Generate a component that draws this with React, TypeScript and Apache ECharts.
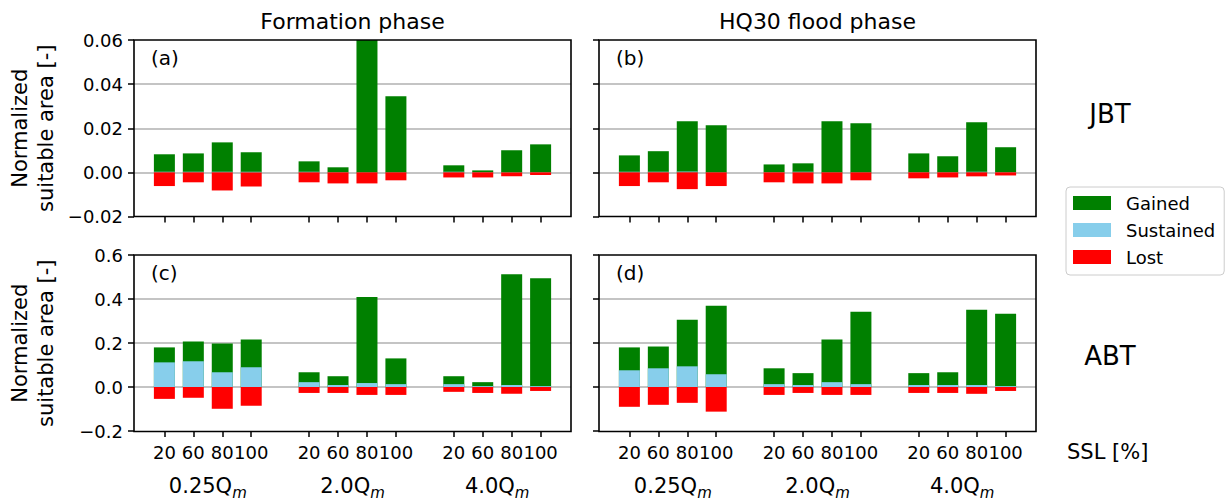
import React, { useEffect, useRef } from 'react';
import * as echarts from 'echarts';

// ---------- data ----------
const sslLabels = ['20', '60', '80', '100'];
const dischargeLabels = ['0.25', '2.0', '4.0'];
const phaseTitles = ['Formation phase', 'HQ30 flood phase'];
const speciesLabels = ['JBT', 'ABT'];
const panelLetters = ['(a)', '(b)', '(c)', '(d)'];
const seriesNames = ['Gained', 'Sustained', 'Lost'];

// (a) JBT, formation phase
const jbtFormationSustained = [0.0003, 0.0003, 0.0003, 0.0003, 0.0003, 0, 0, 0, 0.0003, 0, 0, 0];
const jbtFormationGained = [0.0079, 0.0083, 0.0133, 0.0088, 0.0047, 0.0023, 0.062, 0.0345, 0.0029, 0.0009, 0.01, 0.0127];
const jbtFormationLost = [-0.0062, -0.0045, -0.0082, -0.0064, -0.0045, -0.005, -0.005, -0.0036, -0.0023, -0.0023, -0.0017, -0.0012];

// (b) JBT, HQ30 flood phase
const jbtFloodSustained = [0.0003, 0.0003, 0.0004, 0, 0, 0.0003, 0, 0, 0, 0, 0.0003, 0];
const jbtFloodGained = [0.0074, 0.0093, 0.0228, 0.0214, 0.0036, 0.0038, 0.0232, 0.0223, 0.0086, 0.0073, 0.0224, 0.0114];
const jbtFloodLost = [-0.0062, -0.0045, -0.0076, -0.0062, -0.0045, -0.005, -0.005, -0.0036, -0.0027, -0.0023, -0.0018, -0.0014];

// (c) ABT, formation phase
const abtFormationSustained = [0.112, 0.117, 0.067, 0.09, 0.022, 0.009, 0.018, 0.013, 0.013, 0.004, 0.009, 0.004];
const abtFormationGained = [0.068, 0.09, 0.131, 0.126, 0.045, 0.04, 0.391, 0.117, 0.036, 0.018, 0.503, 0.49];
const abtFormationLost = [-0.054, -0.049, -0.099, -0.085, -0.027, -0.027, -0.036, -0.036, -0.022, -0.027, -0.031, -0.018];

// (d) ABT, HQ30 flood phase
const abtFloodSustained = [0.076, 0.085, 0.094, 0.058, 0.013, 0.009, 0.022, 0.013, 0.009, 0.009, 0.009, 0.004];
const abtFloodGained = [0.104, 0.099, 0.212, 0.311, 0.072, 0.054, 0.194, 0.329, 0.054, 0.058, 0.342, 0.329];
const abtFloodLost = [-0.09, -0.081, -0.072, -0.112, -0.036, -0.027, -0.036, -0.036, -0.027, -0.027, -0.031, -0.018];

const panelData = [
  { sustained: jbtFormationSustained, gained: jbtFormationGained, lost: jbtFormationLost },
  { sustained: jbtFloodSustained, gained: jbtFloodGained, lost: jbtFloodLost },
  { sustained: abtFormationSustained, gained: abtFormationGained, lost: abtFormationLost },
  { sustained: abtFloodSustained, gained: abtFloodGained, lost: abtFloodLost },
];

// ---------- layout / style ----------
const FONT = 'DejaVu Sans';
const COLORS = { Gained: '#008000', Sustained: '#87CEEB', Lost: '#FF0000' };
const GRID_LEFT = [134, 599];
const GRID_TOP = [40, 255];
const GRID_W = 437;
const GRID_H = [176.5, 176.5];
const X_MIN = -1.05;
const X_MAX = 14.05;
const BAR_W = 21;

// bar positions on the x scale: groups of 4 separated by one empty slot
const xPositions: number[] = [];
dischargeLabels.forEach((_, g) => sslLabels.forEach((__, i) => xPositions.push(g * 5 + i)));
const groupCenters = dischargeLabels.map((_, g) => g * 5 + (sslLabels.length - 1) / 2);

const fmtTick = (v: number, d: number) => {
  if (Math.abs(v) < 1e-9) v = 0;
  const s = Math.abs(v).toFixed(d);
  return v < 0 ? '\u2212' + s : s;
};

function buildOption() {
  const grids: any[] = [];
  const xAxes: any[] = [];
  const yAxes: any[] = [];
  const series: any[] = [];
  const graphics: any[] = [];

  for (let p = 0; p < 4; p++) {
    const row = Math.floor(p / 2);
    const col = p % 2;
    const left = GRID_LEFT[col];
    const top = GRID_TOP[row];
    const h = GRID_H[row];
    grids.push({ left, top, width: GRID_W, height: h, containLabel: false, show: false });

    xAxes.push({
      type: 'value',
      gridIndex: p,
      min: X_MIN,
      max: X_MAX,
      position: 'bottom',
      axisLine: { show: false, onZero: false },
      splitLine: { show: false },
      axisTick: {
        show: true,
        customValues: xPositions,
        length: 6,
        lineStyle: { color: '#000', width: 1.5 },
      },
      axisLabel: {
        show: row === 1,
        customValues: xPositions,
        formatter: (v: number) => {
          const idx = xPositions.findIndex((x) => Math.abs(x - v) < 1e-6);
          return idx >= 0 ? sslLabels[idx % sslLabels.length] : '';
        },
        margin: 12,
        fontSize: 18,
        fontFamily: FONT,
        color: '#000',
      },
    });

    const isJ = row === 0;
    yAxes.push({
      type: 'value',
      gridIndex: p,
      position: 'left',
      min: isJ ? -0.02 : -0.2,
      max: isJ ? 0.06 : 0.6,
      interval: isJ ? 0.02 : 0.2,
      axisLine: { show: false, onZero: false },
      axisTick: { show: true, length: 6, lineStyle: { color: '#000', width: 1.5 } },
      splitLine: {
        show: true,
        showMinLine: false,
        showMaxLine: false,
        lineStyle: { color: '#b0b0b0', width: 1.6 },
      },
      axisLabel: {
        show: col === 0,
        formatter: (v: number) => fmtTick(v, isJ ? 2 : 1),
        margin: 11,
        fontSize: 18,
        fontFamily: FONT,
        color: '#000',
      },
    });

    const d = panelData[p];
    const totals = d.sustained.map((s, i) => s + d.gained[i]);
    const common = {
      type: 'bar',
      xAxisIndex: p,
      yAxisIndex: p,
      barWidth: BAR_W,
      barGap: '-100%',
      clip: true,
      silent: true,
    };
    series.push({
      ...common,
      name: 'Gained',
      itemStyle: { color: COLORS.Gained },
      data: xPositions.map((x, i) => [x, totals[i]]),
    });
    series.push({
      ...common,
      name: 'Sustained',
      itemStyle: { color: COLORS.Sustained },
      data: xPositions.map((x, i) => [x, d.sustained[i]]),
    });
    series.push({
      ...common,
      name: 'Lost',
      itemStyle: { color: COLORS.Lost },
      data: xPositions.map((x, i) => [x, d.lost[i]]),
    });

    // frame
    graphics.push({
      type: 'rect',
      silent: true,
      z: 100,
      shape: { x: left, y: top, width: GRID_W, height: h },
      style: { fill: 'none', stroke: '#000', lineWidth: 1.6 },
    });
    // panel letter
    graphics.push({
      type: 'text',
      silent: true,
      z: 100,
      x: left + 17,
      y: top + 17.5,
      style: {
        text: panelLetters[p],
        fontSize: 20,
        fontFamily: FONT,
        fill: '#000',
        textAlign: 'left',
        textVerticalAlign: 'middle',
      },
    });
  }

  // group (discharge) label axes under the bottom row
  for (let col = 0; col < 2; col++) {
    xAxes.push({
      type: 'value',
      gridIndex: 2 + col,
      min: X_MIN,
      max: X_MAX,
      position: 'bottom',
      axisLine: { show: false, onZero: false },
      axisTick: { show: false },
      splitLine: { show: false },
      axisLabel: {
        show: true,
        customValues: groupCenters,
        margin: 41,
        formatter: (v: number) => {
          const gi = groupCenters.findIndex((c) => Math.abs(c - v) < 1e-6);
          return gi >= 0 ? `{n|${dischargeLabels[gi]}Q}{s|m}` : '';
        },
        rich: {
          n: { fontSize: 21, fontFamily: FONT, color: '#000', lineHeight: 28 },
          s: {
            fontSize: 15,
            fontFamily: FONT,
            fontStyle: 'italic',
            color: '#000',
            lineHeight: 16,
            verticalAlign: 'bottom',
          },
        },
      },
    });
  }

  // column titles
  phaseTitles.forEach((t, col) => {
    graphics.push({
      type: 'text',
      silent: true,
      x: GRID_LEFT[col] + GRID_W / 2,
      y: 21,
      style: { text: t, fontSize: 22, fontFamily: FONT, fill: '#000', textAlign: 'center', textVerticalAlign: 'middle' },
    });
  });

  // y-axis titles
  for (let row = 0; row < 2; row++) {
    graphics.push({
      type: 'text',
      silent: true,
      x: 33,
      y: GRID_TOP[row] + GRID_H[row] / 2,
      rotation: Math.PI / 2,
      style: {
        text: 'Normalized\nsuitable area [-]',
        fontSize: 21,
        lineHeight: 26,
        fontFamily: FONT,
        fill: '#000',
        textAlign: 'center',
        textVerticalAlign: 'middle',
      },
    });
  }

  // row labels
  speciesLabels.forEach((t, row) => {
    graphics.push({
      type: 'text',
      silent: true,
      x: 1110,
      y: row === 0 ? 114 : 356,
      style: { text: t, fontSize: 26, fontFamily: FONT, fill: '#000', textAlign: 'center', textVerticalAlign: 'middle' },
    });
  });

  graphics.push({
    type: 'text',
    silent: true,
    x: 1067,
    y: 452,
    style: { text: 'SSL [%]', fontSize: 21, fontFamily: FONT, fill: '#000', textAlign: 'left', textVerticalAlign: 'middle' },
  });

  return {
    animation: false,
    backgroundColor: '#ffffff',
    textStyle: { fontFamily: FONT },
    grid: grids,
    xAxis: xAxes,
    yAxis: yAxes,
    legend: {
      data: seriesNames,
      orient: 'vertical',
      left: 1066,
      top: 187,
      icon: 'rect',
      itemWidth: 38,
      itemHeight: 14,
      itemGap: 9,
      selectedMode: false,
      padding: [7, 9, 9, 7],
      borderColor: '#cccccc',
      borderWidth: 1,
      borderRadius: 4,
      backgroundColor: '#ffffff',
      textStyle: { fontSize: 18, lineHeight: 18, fontFamily: FONT, color: '#000', padding: [0, 0, 0, 10] },
    },
    series,
    graphic: { elements: graphics },
  };
}

export default function App() {
  const ref = useRef<HTMLDivElement>(null);
  useEffect(() => {
    if (!ref.current) return;
    const chart = echarts.init(ref.current, undefined, { renderer: 'svg' });
    chart.setOption(buildOption() as any);
    return () => chart.dispose();
  }, []);
  return (
    <div style={{ position: 'fixed', left: 0, top: 0, width: 1226, height: 500, background: '#fff' }}>
      <div ref={ref} style={{ width: 1226, height: 500 }} />
    </div>
  );
}
